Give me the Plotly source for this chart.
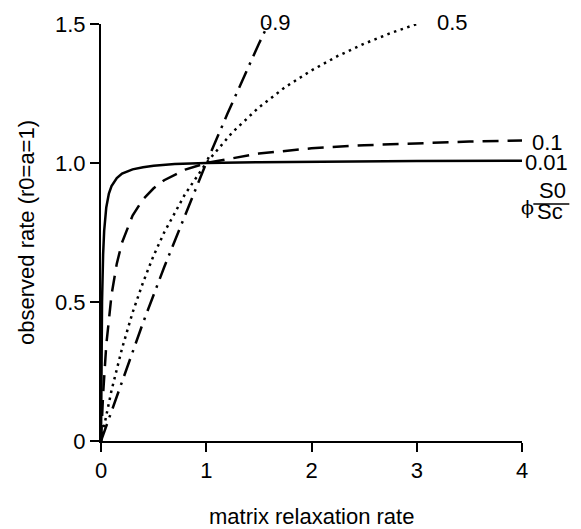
import plotly.graph_objects as go

# Curves for phi*S0/Sc = 0.01, 0.1, 0.5, 0.9
x_001 = [0, 0.005, 0.01, 0.02, 0.03, 0.05, 0.075, 0.1, 0.15, 0.2, 0.3, 0.4, 0.5, 0.7, 1.0, 1.5, 2.0, 3.0, 4.0]
y_001 = [0, 0.334, 0.503, 0.671, 0.756, 0.840, 0.890, 0.917, 0.946, 0.962, 0.977, 0.985, 0.990, 0.996, 1.0, 1.003, 1.005, 1.007, 1.008]

x_01 = [0, 0.02, 0.05, 0.1, 0.15, 0.2, 0.3, 0.4, 0.5, 0.6, 0.8, 1.0, 1.5, 2.0, 2.5, 3.0, 3.5, 4.0]
y_01 = [0, 0.169, 0.345, 0.526, 0.638, 0.714, 0.811, 0.870, 0.909, 0.938, 0.976, 1.0, 1.034, 1.053, 1.064, 1.071, 1.077, 1.081]

x_05 = [0, 0.1, 0.2, 0.3, 0.4, 0.5, 0.6, 0.8, 1.0, 1.25, 1.5, 1.75, 2.0, 2.25, 2.5, 2.75, 3.0]
y_05 = [0, 0.182, 0.333, 0.462, 0.571, 0.667, 0.750, 0.889, 1.0, 1.111, 1.2, 1.273, 1.333, 1.385, 1.429, 1.467, 1.5]

x_09 = [0, 0.2, 0.4, 0.6, 0.8, 1.0, 1.2, 1.4, 1.5, 1.59]
y_09 = [0, 0.217, 0.426, 0.625, 0.816, 1.0, 1.176, 1.346, 1.429, 1.5]

x_ticks = [0, 1, 2, 3, 4]
x_ticklabels = ["0", "1", "2", "3", "4"]
y_ticks = [0, 0.5, 1.0, 1.5]
y_ticklabels = ["0", "0.5", "1.0", "1.5"]

curve_labels = ["0.01", "0.1", "0.5", "0.9"]

FONT = "Liberation Sans, Arial, Helvetica, sans-serif"
FS = 22

fig = go.Figure()
styles = [
    (x_001, y_001, "solid"),
    (x_01, y_01, "16px,9px"),
    (x_05, y_05, "2.5px,4.5px"),
    (x_09, y_09, "18px,7px,2.5px,7px"),
]
for (xs, ys, dash), name in zip(styles, curve_labels):
    fig.add_trace(go.Scatter(x=xs, y=ys, mode="lines", name=name,
                             line=dict(color="black", width=2.5, dash=dash),
                             showlegend=False, cliponaxis=False))

def lab(x, y, text, xanchor="center", **kw):
    fig.add_annotation(xref="paper", yref="paper", x=x, y=y, text=text, showarrow=False,
                       xanchor=xanchor, yanchor="middle", **kw)

# Curve labels
lab(0.414, 1.004, curve_labels[3])
lab(0.8345, 1.003, curve_labels[2])
lab(1.0197, 0.716, curve_labels[1], xanchor="left")
lab(1.003, 0.668, curve_labels[0], xanchor="left")
# phi * S0/Sc
lab(1.0126, 0.561, "\u03d5", font=dict(family="DejaVu Serif, serif", size=19))
lab(1.0725, 0.600, "S0")
lab(1.0672, 0.550, "Sc")
fig.add_shape(type="line", xref="paper", yref="paper", x0=1.0269, x1=1.1124, y0=0.5683, y1=0.5683,
              line=dict(color="black", width=1.5))

# Axis titles
lab(0.5, -0.180, "matrix relaxation rate")
lab(-0.177, 0.5, "observed rate (r0=a=1)", textangle=-90)

fig.update_layout(
    width=581, height=529,
    margin=dict(l=101, r=59, t=21, b=88),
    paper_bgcolor="white", plot_bgcolor="white",
    font=dict(family=FONT, size=FS, color="black"),
    xaxis=dict(range=[0, 4], tickvals=x_ticks, ticktext=x_ticklabels, showgrid=False, zeroline=False,
               showline=True, linecolor="black", linewidth=2, ticks="outside", ticklen=9, tickwidth=2,
               tickcolor="black", fixedrange=True),
    yaxis=dict(range=[0, 1.5], tickvals=y_ticks, ticktext=y_ticklabels, showgrid=False, zeroline=False,
               showline=True, linecolor="black", linewidth=2, ticks="outside", ticklen=9, tickwidth=2,
               tickcolor="black", fixedrange=True),
)

fig.write_html("out.html", config={"displayModeBar": False},
               post_script="document.body.style.margin='0';")
